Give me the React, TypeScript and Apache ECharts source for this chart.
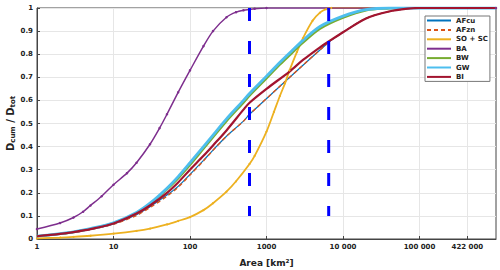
import React, { useEffect, useRef } from 'react';
import * as echarts from 'echarts';

// ---- data (areas in km², values = D_cum / D_tot) ----
const xTickValues = [1, 10, 100, 1000, 10000, 100000, 422000];
const xTickLabels = ['1', '10', '100', '1000', '10 000', '100 000', '422 000'];
const xMaxArea = 1000000;

const afcuArea = [1, 2, 3, 5, 10, 20, 30, 50, 70, 100, 150, 200, 300, 500, 600, 6500, 10000, 20000, 40000, 70000, 100000, 1000000];
const afcuValues = [0.012, 0.021, 0.029, 0.041, 0.065, 0.105, 0.14, 0.19, 0.228, 0.28, 0.34, 0.385, 0.445, 0.51, 0.54, 0.852, 0.895, 0.955, 0.985, 0.997, 1, 1];

const afznArea = [1, 2, 3, 5, 10, 20, 30, 50, 70, 100, 150, 200, 300, 500, 600, 6500, 10000, 20000, 40000, 70000, 100000, 1000000];
const afznValues = [0.012, 0.021, 0.029, 0.041, 0.064, 0.102, 0.136, 0.185, 0.224, 0.277, 0.338, 0.384, 0.445, 0.51, 0.54, 0.852, 0.895, 0.955, 0.985, 0.997, 1, 1];

const soArea = [1, 2, 3, 5, 10, 20, 30, 50, 70, 100, 150, 200, 300, 400, 600, 700, 1000, 1250, 1500, 1750, 2000, 2500, 3000, 4000, 5000, 6000, 7000, 1000000];
const soValues = [0.003, 0.006, 0.009, 0.014, 0.023, 0.035, 0.045, 0.063, 0.078, 0.095, 0.125, 0.155, 0.205, 0.25, 0.325, 0.36, 0.465, 0.55, 0.62, 0.675, 0.73, 0.81, 0.87, 0.945, 0.98, 0.995, 1, 1];

const baArea = [1, 2, 3, 4, 5, 7, 10, 15, 20, 30, 40, 50, 70, 100, 150, 200, 300, 400, 500, 700, 1000, 1000000];
const baValues = [0.043, 0.069, 0.093, 0.118, 0.145, 0.185, 0.235, 0.285, 0.33, 0.41, 0.48, 0.54, 0.635, 0.73, 0.835, 0.9, 0.96, 0.982, 0.99, 0.997, 1, 1];

const bwArea = [1, 2, 3, 5, 10, 20, 30, 50, 70, 100, 150, 200, 300, 500, 600, 1000, 1500, 2000, 3000, 5000, 10000, 20000, 40000, 60000, 1000000];
const bwValues = [0.012, 0.022, 0.03, 0.044, 0.069, 0.113, 0.152, 0.215, 0.262, 0.32, 0.39, 0.44, 0.51, 0.59, 0.62, 0.695, 0.755, 0.795, 0.85, 0.91, 0.958, 0.99, 0.998, 1, 1];

const gwArea = [1, 2, 3, 5, 10, 20, 30, 50, 70, 100, 150, 200, 300, 500, 600, 1000, 1500, 2000, 3000, 5000, 10000, 20000, 40000, 1000000];
const gwValues = [0.012, 0.023, 0.031, 0.045, 0.07, 0.115, 0.155, 0.22, 0.27, 0.33, 0.4, 0.45, 0.52, 0.6, 0.63, 0.705, 0.765, 0.805, 0.86, 0.92, 0.965, 0.993, 1, 1];

const biArea = [1, 2, 3, 5, 10, 20, 30, 50, 70, 100, 150, 200, 300, 500, 600, 1000, 2000, 3000, 5000, 6500, 10000, 20000, 40000, 70000, 100000, 1000000];
const biValues = [0.012, 0.022, 0.03, 0.043, 0.067, 0.11, 0.145, 0.2, 0.245, 0.3, 0.36, 0.405, 0.47, 0.56, 0.59, 0.65, 0.725, 0.775, 0.83, 0.855, 0.895, 0.955, 0.985, 0.997, 1, 1];

const thresholdAreas = [600, 6500];
const thresholdRange = [1, 0.1];

const FONT = 'DejaVu Sans';
const lg = (a: number) => Math.log10(a);
const pts = (areas: number[], vals: number[]) => areas.map((a, i) => [lg(a), vals[i]]);

function curve(name: string, areas: number[], vals: number[], color: string, width: number, extra: any = {}) {
  return {
    name,
    type: 'line',
    data: pts(areas, vals),
    smooth: 0.3,
    symbol: 'none',
    lineStyle: { color, width },
    itemStyle: { color },
    z: 3,
    ...extra,
  };
}

export default function App() {
  const ref = useRef<HTMLDivElement>(null);
  useEffect(() => {
    const chart = echarts.init(ref.current!, undefined, { renderer: 'svg' });
    const tickLogs = xTickValues.map(lg);
    const option: any = {
      animation: false,
      backgroundColor: '#ffffff',
      grid: {
        left: 37, right: 4, top: 8, bottom: 31,
        containLabel: false,
        outerBoundsMode: 'none',
        show: true, borderColor: '#444', borderWidth: 1, backgroundColor: 'transparent',
      },
      xAxis: {
        type: 'value',
        min: 0,
        max: lg(xMaxArea),
        name: 'Area [km²]',
        nameLocation: 'middle',
        nameGap: 19,
        nameMoveOverlap: false,
        nameTextStyle: { fontFamily: FONT, fontWeight: 'bold', fontSize: 9, color: '#222' },
        axisLine: { show: true, lineStyle: { color: '#444', width: 1 } },
        axisTick: { show: true, inside: true, length: 3, customValues: tickLogs, lineStyle: { color: '#444' } },
        axisLabel: {
          customValues: tickLogs,
          margin: 4,
          fontFamily: FONT, fontWeight: 'bold', fontSize: 7, color: '#222',
          formatter: (v: number) => {
            const i = tickLogs.findIndex((t) => Math.abs(t - v) < 1e-6);
            return i >= 0 ? xTickLabels[i] : '';
          },
        },
        splitLine: { show: true, lineStyle: { color: '#e6e6e6', width: 1 } },
      },
      yAxis: {
        type: 'value',
        min: 0,
        max: 1,
        interval: 0.1,
        name: '{a|D}{s|cum}{a| / D}{s|tot}',
        nameLocation: 'middle',
        nameRotate: 90,
        nameGap: 21,
        nameMoveOverlap: false,
        nameTextStyle: {
          rich: {
            a: { fontFamily: FONT, fontWeight: 'bold', fontSize: 10, color: '#222', lineHeight: 12 },
            s: { fontFamily: FONT, fontWeight: 'bold', fontSize: 7, color: '#222', lineHeight: 7, padding: [5, 0, 0, 0] },
          },
        },
        axisLine: { show: true, lineStyle: { color: '#444', width: 1 } },
        axisTick: { show: true, inside: true, length: 3, lineStyle: { color: '#444' } },
        axisLabel: {
          margin: 4,
          fontFamily: FONT, fontWeight: 'bold', fontSize: 7, color: '#222',
          formatter: (v: number) => String(Number(v.toFixed(1))),
        },
        splitLine: { show: true, lineStyle: { color: '#e6e6e6', width: 1 } },
      },
      legend: {
        orient: 'vertical',
        left: 425,
        top: 16,
        itemWidth: 24,
        itemHeight: 7,
        itemGap: 2.4,
        padding: [1, 2, 1, 1],
        backgroundColor: '#ffffff',
        borderColor: '#777',
        borderWidth: 1,
        itemStyle: { opacity: 0 },
        textStyle: { fontFamily: FONT, fontWeight: 'bold', fontSize: 7, color: '#222' },
        data: ['AFcu', 'AFzn', 'SO + SC', 'BA', 'BW', 'GW', 'BI'],
      },
      series: [
        curve('AFcu', afcuArea, afcuValues, '#0072BD', 1.2),
        curve('AFzn', afznArea, afznValues, '#D95319', 1.4, { lineStyle: { color: '#D95319', width: 1.4, type: [4, 3] } }),
        curve('SO + SC', soArea, soValues, '#EDB120', 1.8, { symbol: 'circle', symbolSize: 2, showSymbol: true, showAllSymbol: true }),
        curve('BA', baArea, baValues, '#7E2F8E', 1.5, { symbol: 'circle', symbolSize: 2.5, showSymbol: true, showAllSymbol: true }),
        curve('BW', bwArea, bwValues, '#77AC30', 2.2),
        curve('GW', gwArea, gwValues, '#4DBEEE', 2.8),
        curve('BI', biArea, biValues, '#A2142F', 2.2),
        ...thresholdAreas.map((a) => ({
          name: 'threshold',
          type: 'line',
          data: thresholdRange.map((y) => [lg(a), y]),
          symbol: 'none',
          silent: true,
          z: 5,
          lineStyle: { color: '#0000FF', width: 3, type: [13, 20] },
        })),
      ],
    };
    chart.setOption(option);
    return () => chart.dispose();
  }, []);
  return (
    <div
      ref={ref}
      style={{ position: 'fixed', left: 0, top: 0, width: 500, height: 270, background: '#fff' }}
    />
  );
}
